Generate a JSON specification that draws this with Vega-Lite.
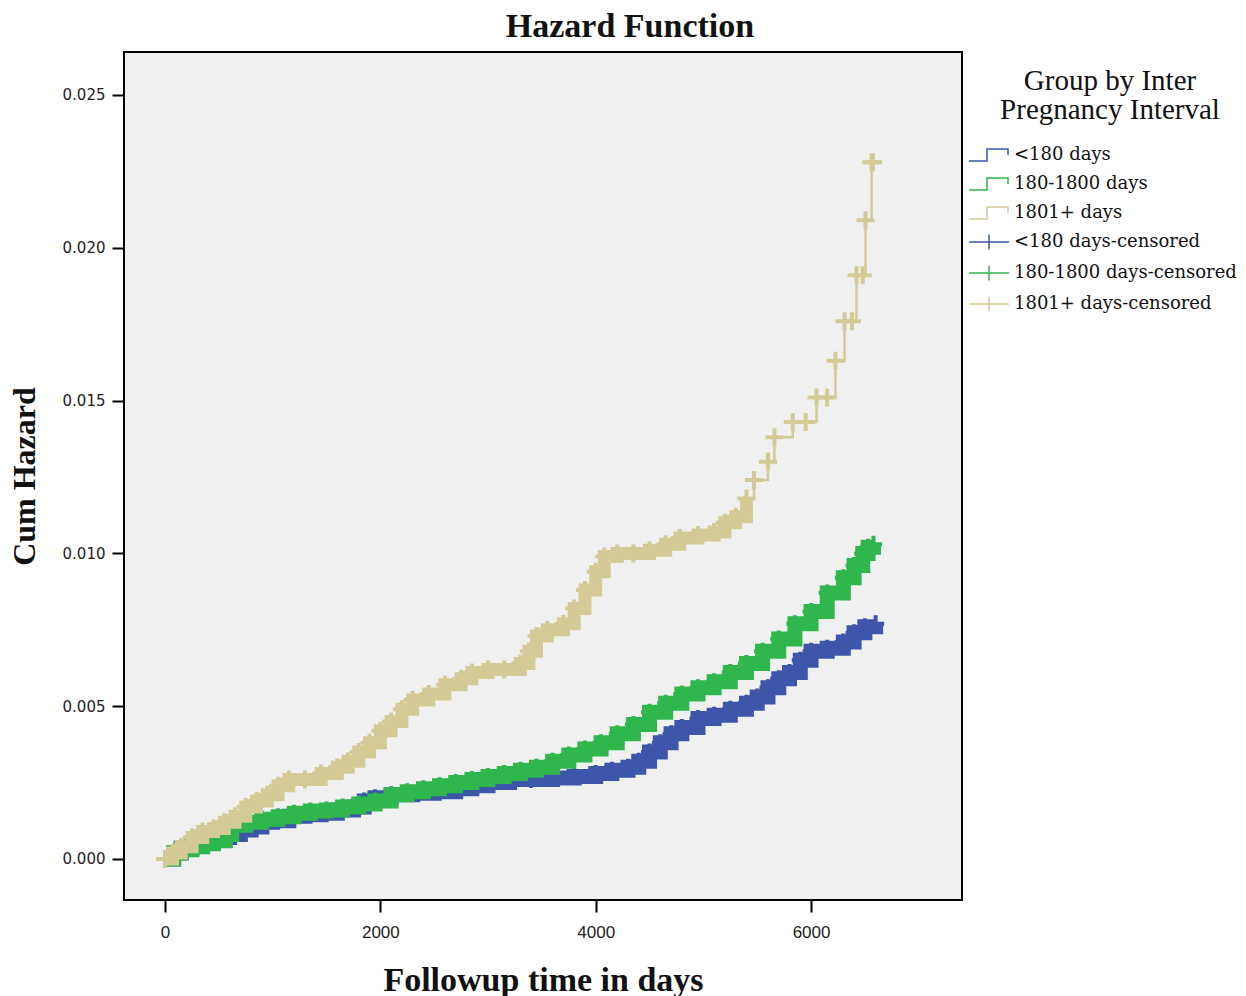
{
  "$schema": "https://vega.github.io/schema/vega-lite/v6.json",
  "width": 838,
  "height": 848,
  "autosize": {"type": "none"},
  "padding": {"left": 124, "top": 52, "right": 284, "bottom": 96},
  "background": "white",
  "title": {"text": "Hazard Function", "font": "Liberation Serif", "fontSize": 34, "fontWeight": "bold", "color": "#111111", "anchor": "middle", "dx": 87, "offset": 8},
  "data": {"values": [
    {"g":"<180 days","c":"<180 days-censored","t":0,"h":0},
    {"g":"<180 days","c":"<180 days-censored","t":80,"h":0.0002},
    {"g":"<180 days","c":"<180 days-censored","t":150,"h":0.00036},
    {"g":"<180 days","c":"<180 days-censored","t":250,"h":0.0005},
    {"g":"<180 days","c":"<180 days-censored","t":350,"h":0.0006},
    {"g":"<180 days","c":"<180 days-censored","t":420,"h":0.00064},
    {"g":"<180 days","c":"<180 days-censored","t":500,"h":0.0007},
    {"g":"<180 days","c":"<180 days-censored","t":600,"h":0.0008},
    {"g":"<180 days","c":"<180 days-censored","t":700,"h":0.00095},
    {"g":"<180 days","c":"<180 days-censored","t":800,"h":0.00105},
    {"g":"<180 days","c":"<180 days-censored","t":900,"h":0.0012},
    {"g":"<180 days","c":"<180 days-censored","t":1000,"h":0.00125},
    {"g":"<180 days","c":"<180 days-censored","t":1150,"h":0.0014},
    {"g":"<180 days","c":"<180 days-censored","t":1300,"h":0.00145},
    {"g":"<180 days","c":"<180 days-censored","t":1450,"h":0.0015},
    {"g":"<180 days","c":"<180 days-censored","t":1600,"h":0.0016},
    {"g":"<180 days","c":"<180 days-censored","t":1750,"h":0.0017},
    {"g":"<180 days","c":"<180 days-censored","t":1850,"h":0.0019},
    {"g":"<180 days","c":"<180 days-censored","t":1950,"h":0.002},
    {"g":"<180 days","c":"<180 days-censored","t":2100,"h":0.0021},
    {"g":"<180 days","c":"<180 days-censored","t":2300,"h":0.00215},
    {"g":"<180 days","c":"<180 days-censored","t":2500,"h":0.0022},
    {"g":"<180 days","c":"<180 days-censored","t":2700,"h":0.0023},
    {"g":"<180 days","c":"<180 days-censored","t":2850,"h":0.0024},
    {"g":"<180 days","c":"<180 days-censored","t":3000,"h":0.0025},
    {"g":"<180 days","c":"<180 days-censored","t":3200,"h":0.0026},
    {"g":"<180 days","c":"<180 days-censored","t":3400,"h":0.0026},
    {"g":"<180 days","c":"<180 days-censored","t":3600,"h":0.00265},
    {"g":"<180 days","c":"<180 days-censored","t":3800,"h":0.0027},
    {"g":"<180 days","c":"<180 days-censored","t":4000,"h":0.0028},
    {"g":"<180 days","c":"<180 days-censored","t":4150,"h":0.0029},
    {"g":"<180 days","c":"<180 days-censored","t":4300,"h":0.003},
    {"g":"<180 days","c":"<180 days-censored","t":4400,"h":0.0032},
    {"g":"<180 days","c":"<180 days-censored","t":4500,"h":0.0035},
    {"g":"<180 days","c":"<180 days-censored","t":4600,"h":0.0038},
    {"g":"<180 days","c":"<180 days-censored","t":4700,"h":0.0041},
    {"g":"<180 days","c":"<180 days-censored","t":4800,"h":0.0043},
    {"g":"<180 days","c":"<180 days-censored","t":4950,"h":0.0046},
    {"g":"<180 days","c":"<180 days-censored","t":5100,"h":0.0047},
    {"g":"<180 days","c":"<180 days-censored","t":5250,"h":0.0049},
    {"g":"<180 days","c":"<180 days-censored","t":5400,"h":0.0051},
    {"g":"<180 days","c":"<180 days-censored","t":5500,"h":0.0053},
    {"g":"<180 days","c":"<180 days-censored","t":5600,"h":0.0056},
    {"g":"<180 days","c":"<180 days-censored","t":5700,"h":0.0059},
    {"g":"<180 days","c":"<180 days-censored","t":5800,"h":0.0061},
    {"g":"<180 days","c":"<180 days-censored","t":5900,"h":0.0065},
    {"g":"<180 days","c":"<180 days-censored","t":6000,"h":0.0068},
    {"g":"<180 days","c":"<180 days-censored","t":6150,"h":0.0069},
    {"g":"<180 days","c":"<180 days-censored","t":6300,"h":0.0071},
    {"g":"<180 days","c":"<180 days-censored","t":6400,"h":0.0074},
    {"g":"<180 days","c":"<180 days-censored","t":6500,"h":0.0076},
    {"g":"<180 days","c":"<180 days-censored","t":6600,"h":0.0077},
    {"g":"180-1800 days","c":"180-1800 days-censored","t":0,"h":0},
    {"g":"180-1800 days","c":"180-1800 days-censored","t":80,"h":0.0002},
    {"g":"180-1800 days","c":"180-1800 days-censored","t":150,"h":0.0003},
    {"g":"180-1800 days","c":"180-1800 days-censored","t":250,"h":0.0004},
    {"g":"180-1800 days","c":"180-1800 days-censored","t":350,"h":0.0005},
    {"g":"180-1800 days","c":"180-1800 days-censored","t":450,"h":0.0006},
    {"g":"180-1800 days","c":"180-1800 days-censored","t":560,"h":0.0008},
    {"g":"180-1800 days","c":"180-1800 days-censored","t":620,"h":0.0011},
    {"g":"180-1800 days","c":"180-1800 days-censored","t":750,"h":0.0012},
    {"g":"180-1800 days","c":"180-1800 days-censored","t":900,"h":0.0013},
    {"g":"180-1800 days","c":"180-1800 days-censored","t":1050,"h":0.00138},
    {"g":"180-1800 days","c":"180-1800 days-censored","t":1200,"h":0.0015},
    {"g":"180-1800 days","c":"180-1800 days-censored","t":1350,"h":0.00157},
    {"g":"180-1800 days","c":"180-1800 days-censored","t":1500,"h":0.0016},
    {"g":"180-1800 days","c":"180-1800 days-censored","t":1650,"h":0.0017},
    {"g":"180-1800 days","c":"180-1800 days-censored","t":1800,"h":0.0018},
    {"g":"180-1800 days","c":"180-1800 days-censored","t":1950,"h":0.0019},
    {"g":"180-1800 days","c":"180-1800 days-censored","t":2100,"h":0.0021},
    {"g":"180-1800 days","c":"180-1800 days-censored","t":2250,"h":0.0022},
    {"g":"180-1800 days","c":"180-1800 days-censored","t":2400,"h":0.0023},
    {"g":"180-1800 days","c":"180-1800 days-censored","t":2550,"h":0.0024},
    {"g":"180-1800 days","c":"180-1800 days-censored","t":2700,"h":0.0025},
    {"g":"180-1800 days","c":"180-1800 days-censored","t":2850,"h":0.0026},
    {"g":"180-1800 days","c":"180-1800 days-censored","t":3000,"h":0.0027},
    {"g":"180-1800 days","c":"180-1800 days-censored","t":3150,"h":0.0028},
    {"g":"180-1800 days","c":"180-1800 days-censored","t":3300,"h":0.0029},
    {"g":"180-1800 days","c":"180-1800 days-censored","t":3450,"h":0.003},
    {"g":"180-1800 days","c":"180-1800 days-censored","t":3600,"h":0.0032},
    {"g":"180-1800 days","c":"180-1800 days-censored","t":3750,"h":0.0034},
    {"g":"180-1800 days","c":"180-1800 days-censored","t":3900,"h":0.0036},
    {"g":"180-1800 days","c":"180-1800 days-censored","t":4050,"h":0.0038},
    {"g":"180-1800 days","c":"180-1800 days-censored","t":4200,"h":0.0041},
    {"g":"180-1800 days","c":"180-1800 days-censored","t":4350,"h":0.0044},
    {"g":"180-1800 days","c":"180-1800 days-censored","t":4500,"h":0.0048},
    {"g":"180-1800 days","c":"180-1800 days-censored","t":4650,"h":0.0051},
    {"g":"180-1800 days","c":"180-1800 days-censored","t":4800,"h":0.0054},
    {"g":"180-1800 days","c":"180-1800 days-censored","t":4950,"h":0.0056},
    {"g":"180-1800 days","c":"180-1800 days-censored","t":5100,"h":0.0058},
    {"g":"180-1800 days","c":"180-1800 days-censored","t":5250,"h":0.0061},
    {"g":"180-1800 days","c":"180-1800 days-censored","t":5400,"h":0.0064},
    {"g":"180-1800 days","c":"180-1800 days-censored","t":5550,"h":0.0068},
    {"g":"180-1800 days","c":"180-1800 days-censored","t":5700,"h":0.0072},
    {"g":"180-1800 days","c":"180-1800 days-censored","t":5850,"h":0.0077},
    {"g":"180-1800 days","c":"180-1800 days-censored","t":6000,"h":0.0081},
    {"g":"180-1800 days","c":"180-1800 days-censored","t":6150,"h":0.0087},
    {"g":"180-1800 days","c":"180-1800 days-censored","t":6300,"h":0.0092},
    {"g":"180-1800 days","c":"180-1800 days-censored","t":6400,"h":0.0096},
    {"g":"180-1800 days","c":"180-1800 days-censored","t":6480,"h":0.01},
    {"g":"180-1800 days","c":"180-1800 days-censored","t":6530,"h":0.0102},
    {"g":"180-1800 days","c":"180-1800 days-censored","t":6580,"h":0.0103},
    {"g":"1801+ days","c":"1801+ days-censored","t":0,"h":0},
    {"g":"1801+ days","c":"1801+ days-censored","t":70,"h":0.0002},
    {"g":"1801+ days","c":"1801+ days-censored","t":150,"h":0.0004},
    {"g":"1801+ days","c":"1801+ days-censored","t":250,"h":0.0007},
    {"g":"1801+ days","c":"1801+ days-censored","t":350,"h":0.0009},
    {"g":"1801+ days","c":"1801+ days-censored","t":450,"h":0.001},
    {"g":"1801+ days","c":"1801+ days-censored","t":550,"h":0.0012},
    {"g":"1801+ days","c":"1801+ days-censored","t":650,"h":0.0014},
    {"g":"1801+ days","c":"1801+ days-censored","t":750,"h":0.0017},
    {"g":"1801+ days","c":"1801+ days-censored","t":850,"h":0.0019},
    {"g":"1801+ days","c":"1801+ days-censored","t":950,"h":0.0021},
    {"g":"1801+ days","c":"1801+ days-censored","t":1050,"h":0.0024},
    {"g":"1801+ days","c":"1801+ days-censored","t":1150,"h":0.0026},
    {"g":"1801+ days","c":"1801+ days-censored","t":1300,"h":0.0026},
    {"g":"1801+ days","c":"1801+ days-censored","t":1450,"h":0.0028},
    {"g":"1801+ days","c":"1801+ days-censored","t":1600,"h":0.003},
    {"g":"1801+ days","c":"1801+ days-censored","t":1700,"h":0.0032},
    {"g":"1801+ days","c":"1801+ days-censored","t":1800,"h":0.0035},
    {"g":"1801+ days","c":"1801+ days-censored","t":1900,"h":0.0038},
    {"g":"1801+ days","c":"1801+ days-censored","t":2000,"h":0.0042},
    {"g":"1801+ days","c":"1801+ days-censored","t":2100,"h":0.0045},
    {"g":"1801+ days","c":"1801+ days-censored","t":2200,"h":0.0049},
    {"g":"1801+ days","c":"1801+ days-censored","t":2300,"h":0.0052},
    {"g":"1801+ days","c":"1801+ days-censored","t":2450,"h":0.0054},
    {"g":"1801+ days","c":"1801+ days-censored","t":2600,"h":0.0057},
    {"g":"1801+ days","c":"1801+ days-censored","t":2750,"h":0.0059},
    {"g":"1801+ days","c":"1801+ days-censored","t":2850,"h":0.0061},
    {"g":"1801+ days","c":"1801+ days-censored","t":3000,"h":0.0062},
    {"g":"1801+ days","c":"1801+ days-censored","t":3150,"h":0.0062},
    {"g":"1801+ days","c":"1801+ days-censored","t":3300,"h":0.0064},
    {"g":"1801+ days","c":"1801+ days-censored","t":3380,"h":0.0068},
    {"g":"1801+ days","c":"1801+ days-censored","t":3450,"h":0.0073},
    {"g":"1801+ days","c":"1801+ days-censored","t":3550,"h":0.0075},
    {"g":"1801+ days","c":"1801+ days-censored","t":3700,"h":0.0077},
    {"g":"1801+ days","c":"1801+ days-censored","t":3800,"h":0.0082},
    {"g":"1801+ days","c":"1801+ days-censored","t":3900,"h":0.0088},
    {"g":"1801+ days","c":"1801+ days-censored","t":4000,"h":0.0094},
    {"g":"1801+ days","c":"1801+ days-censored","t":4080,"h":0.0099},
    {"g":"1801+ days","c":"1801+ days-censored","t":4200,"h":0.01},
    {"g":"1801+ days","c":"1801+ days-censored","t":4350,"h":0.01},
    {"g":"1801+ days","c":"1801+ days-censored","t":4500,"h":0.0101},
    {"g":"1801+ days","c":"1801+ days-censored","t":4650,"h":0.0103},
    {"g":"1801+ days","c":"1801+ days-censored","t":4780,"h":0.0105},
    {"g":"1801+ days","c":"1801+ days-censored","t":4950,"h":0.0106},
    {"g":"1801+ days","c":"1801+ days-censored","t":5100,"h":0.0107},
    {"g":"1801+ days","c":"1801+ days-censored","t":5200,"h":0.011},
    {"g":"1801+ days","c":"1801+ days-censored","t":5300,"h":0.0112},
    {"g":"1801+ days","c":"1801+ days-censored","t":5400,"h":0.0118},
    {"g":"1801+ days","c":"1801+ days-censored","t":5470,"h":0.0124},
    {"g":"1801+ days","c":"1801+ days-censored","t":5600,"h":0.013},
    {"g":"1801+ days","c":"1801+ days-censored","t":5660,"h":0.0138},
    {"g":"1801+ days","c":"1801+ days-censored","t":5830,"h":0.0143},
    {"g":"1801+ days","c":"1801+ days-censored","t":5950,"h":0.0143},
    {"g":"1801+ days","c":"1801+ days-censored","t":6051,"h":0.0151},
    {"g":"1801+ days","c":"1801+ days-censored","t":6150,"h":0.0151},
    {"g":"1801+ days","c":"1801+ days-censored","t":6227,"h":0.0163},
    {"g":"1801+ days","c":"1801+ days-censored","t":6311,"h":0.0176},
    {"g":"1801+ days","c":"1801+ days-censored","t":6380,"h":0.0176},
    {"g":"1801+ days","c":"1801+ days-censored","t":6422,"h":0.0191},
    {"g":"1801+ days","c":"1801+ days-censored","t":6480,"h":0.0191},
    {"g":"1801+ days","c":"1801+ days-censored","t":6506,"h":0.0209},
    {"g":"1801+ days","c":"1801+ days-censored","t":6562,"h":0.0228},
    {"g":"1801+ days","c":"1801+ days-censored","t":6575,"h":0.0228}
  ]},
  "encoding": {
    "x": {"field": "t", "type": "quantitative", "scale": {"domain": [-381, 7402], "nice": false, "zero": false},
      "axis": {"values": [0, 2000, 4000, 6000], "format": "d", "title": "Followup time in days",
        "labelFont": "Liberation Sans", "labelFontSize": 17, "labelPadding": 12, "labelColor": "#222222",
        "titleFont": "Liberation Serif", "titleFontSize": 34, "titleFontWeight": "bold", "titlePadding": 23}},
    "y": {"field": "h", "type": "quantitative", "scale": {"domain": [-0.001342, 0.026407], "nice": false, "zero": false},
      "axis": {"values": [0, 0.005, 0.01, 0.015, 0.02, 0.025], "format": ".3f", "title": "Cum Hazard",
        "labelFont": "DejaVu Sans", "labelFontSize": 15, "labelPadding": 7, "labelColor": "#222222",
        "titleFont": "Liberation Serif", "titleFontSize": 32, "titleFontWeight": "bold", "titlePadding": 21}}
  },
  "layer": [
    {
      "transform": [{"filter": "datum.g == '<180 days'"}],
      "mark": {"type": "line", "interpolate": "step-after", "strokeWidth": 15, "strokeJoin": "miter", "strokeCap": "butt"},
      "encoding": {
        "color": {
          "field": "g", "type": "nominal",
          "scale": {
            "domain": ["<180 days", "180-1800 days", "1801+ days", "<180 days-censored", "180-1800 days-censored", "1801+ days-censored"],
            "range": ["#3d56aa", "#2fb64c", "#d3ca95", "#3d56aa", "#2fb64c", "#d3ca95"]
          },
          "legend": {
            "title": ["Group by Inter", "Pregnancy Interval"],
            "orient": "none", "legendX": 835, "legendY": 15,
            "padding": 0,
            "titleFont": "Liberation Serif", "titleFontSize": 29, "titleFontWeight": "normal", "titleColor": "#111111",
            "titleAnchor": "middle", "titleAlign": "center", "titleLineHeight": 29, "titlePadding": 19, "titleLimit": 500,
            "labelFont": "DejaVu Serif", "labelFontSize": 18, "labelColor": "#111111", "labelOffset": 14, "labelLimit": 400,
            "symbolSize": 400, "symbolStrokeWidth": 1.5, "symbolOffset": 19, "rowPadding": 9,
            "encode": {
              "title": {"update": {"dx": {"value": 12}}},
              "symbols": {"update": {
                "shape": {"signal": "indexof(datum.value, 'censored') >= 0 ? 'M-2,0H2M0,-0.75V0.75' : 'M-2,0.6H-0.2V-0.6H1.9V0'"},
                "fill": {"value": "transparent"}
              }}
            }
          }
        }
      }
    },
    {
      "transform": [{"filter": "datum.g == '<180 days'"}],
      "mark": {"type": "point", "shape": "M-1,0H1M0,-1V1", "size": 289, "strokeWidth": 4, "filled": false, "opacity": 1},
      "encoding": {"color": {"field": "c", "type": "nominal", "legend": null}}
    },
    {
      "transform": [{"filter": "datum.g == '180-1800 days'"}],
      "mark": {"type": "line", "interpolate": "step-after", "strokeWidth": 15, "strokeJoin": "miter", "strokeCap": "butt"},
      "encoding": {"color": {"field": "g", "type": "nominal", "legend": null}}
    },
    {
      "transform": [{"filter": "datum.g == '180-1800 days'"}],
      "mark": {"type": "point", "shape": "M-1,0H1M0,-1V1", "size": 289, "strokeWidth": 4, "filled": false, "opacity": 1},
      "encoding": {"color": {"field": "c", "type": "nominal", "legend": null}}
    },
    {
      "transform": [{"filter": "datum.g == '1801+ days' && datum.t <= 5400"}],
      "mark": {"type": "line", "interpolate": "step-after", "strokeWidth": 13, "strokeJoin": "miter", "strokeCap": "butt"},
      "encoding": {"color": {"field": "g", "type": "nominal", "legend": null}}
    },
    {
      "transform": [{"filter": "datum.g == '1801+ days' && datum.t >= 5400"}],
      "mark": {"type": "line", "interpolate": "step-after", "strokeWidth": 2.5},
      "encoding": {"color": {"field": "g", "type": "nominal", "legend": null}}
    },
    {
      "transform": [{"filter": "datum.g == '1801+ days'"}],
      "mark": {"type": "point", "shape": "M-1,0H1M0,-1V1", "size": 324, "strokeWidth": 4, "filled": false, "opacity": 1},
      "encoding": {"color": {"field": "c", "type": "nominal", "legend": null}}
    }
  ],
  "config": {
    "view": {"fill": "#f0f0f0", "stroke": "#000000", "strokeWidth": 2},
    "axis": {"domain": false, "grid": false, "ticks": true, "tickColor": "#000000", "tickWidth": 2, "tickSize": 12, "titleColor": "#111111"}
  }
}
